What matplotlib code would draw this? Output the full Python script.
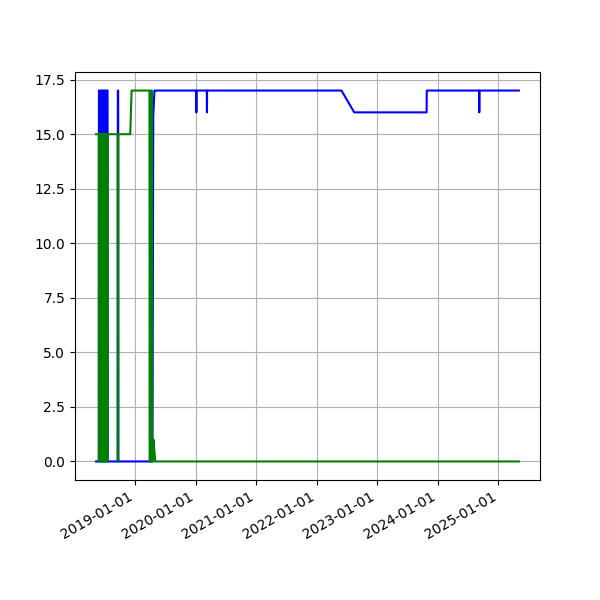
#!/usr/bin/env python3

import matplotlib
matplotlib.use('Agg')
import matplotlib.pyplot as plt
import matplotlib.dates as mdates
import pandas as pd

# change points
blue_dates = ['2018-05-10', '2018-05-26', '2018-05-27', '2018-05-30', '2018-05-31',
              '2018-06-03', '2018-06-04', '2018-06-08', '2018-06-09', '2018-06-13',
              '2018-06-14', '2018-06-18', '2018-06-19', '2018-06-23', '2018-06-24',
              '2018-06-28', '2018-06-29', '2018-07-03', '2018-07-04', '2018-07-08',
              '2018-07-09', '2018-07-13', '2018-07-14', '2018-07-18', '2018-07-19',
              '2018-09-17', '2018-09-18', '2018-09-20', '2018-09-21', '2018-09-25',
              '2018-09-26', '2019-04-15', '2019-04-20', '2019-04-21', '2019-04-27',
              '2019-04-28', '2020-01-04', '2020-01-05', '2020-01-06', '2020-03-08',
              '2020-03-09', '2020-03-10', '2022-05-30', '2022-08-15', '2023-10-26',
              '2023-10-27', '2024-09-07', '2024-09-08', '2024-09-09', '2025-05-05']
blue_values = [0, 0, 17, 17, 0,
               0, 17, 17, 0, 0,
               17, 17, 0, 0, 17,
               17, 0, 0, 17, 17,
               0, 0, 17, 17, 0,
               0, 17, 17, 0, 0,
               0, 0, 16, 16, 17,
               17, 17, 16, 17, 17,
               16, 17, 17, 16, 16,
               17, 17, 16, 17, 17]

green_dates = ['2018-05-10', '2018-05-26', '2018-05-27', '2018-05-30', '2018-05-31',
               '2018-06-03', '2018-06-04', '2018-06-08', '2018-06-09', '2018-06-13',
               '2018-06-14', '2018-06-18', '2018-06-19', '2018-06-23', '2018-06-24',
               '2018-06-28', '2018-06-29', '2018-07-03', '2018-07-04', '2018-07-08',
               '2018-07-09', '2018-07-13', '2018-07-14', '2018-07-18', '2018-07-19',
               '2018-09-17', '2018-09-18', '2018-09-20', '2018-09-21', '2018-09-25',
               '2018-09-26', '2018-12-02', '2018-12-10', '2019-03-28', '2019-03-29',
               '2019-04-05', '2019-04-06', '2019-04-12', '2019-04-13', '2019-04-20',
               '2019-04-21', '2019-05-02', '2025-05-05']
green_values = [15, 15, 0, 0, 15,
                15, 0, 0, 15, 15,
                0, 0, 15, 15, 0,
                0, 15, 15, 0, 0,
                15, 15, 0, 0, 15,
                15, 0, 0, 15, 15,
                15, 15, 17, 17, 0,
                0, 17, 17, 0, 0,
                1, 0, 0]


def main():
    bd = pd.to_datetime(blue_dates)
    gd = pd.to_datetime(green_dates)
    blue = pd.Series(blue_values, index=bd).sort_index()
    green = pd.Series(green_values, index=gd).sort_index()

    fig, ax = plt.subplots(figsize=(6, 6), dpi=100)
    ax.plot(blue.index, blue.values, c='b')
    ax.plot(green.index, green.values, c='g')
    ax.xaxis.set_major_locator(mdates.YearLocator())
    ax.xaxis.set_major_formatter(mdates.DateFormatter('%Y-%m-%d'))
    ax.grid(True)
    fig.autofmt_xdate()
    fig.savefig('out.png', dpi=100)


if __name__ == '__main__':
    main()
